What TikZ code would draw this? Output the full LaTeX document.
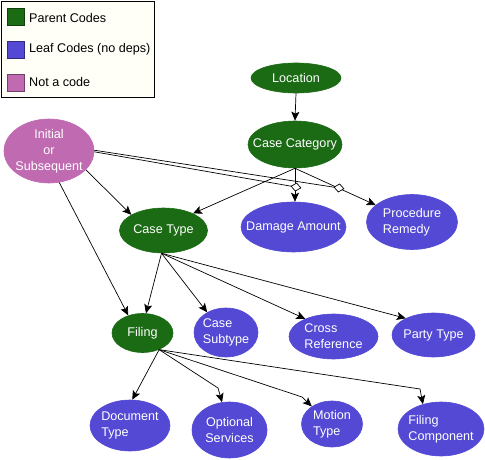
\documentclass[tikz,border=0pt]{standalone}
\usepackage{fontspec}
\setmainfont{Liberation Sans}
\usetikzlibrary{shapes.geometric,arrows.meta}
\definecolor{pgreen}{HTML}{1B6B15}
\definecolor{lblue}{HTML}{5349D4}
\definecolor{npink}{HTML}{C06BB1}
\definecolor{legbg}{HTML}{FFFFF8}
\begin{document}
\begin{tikzpicture}[x=1pt,y=-1pt,
  font=\fontsize{12.6}{15.8}\selectfont,
  base/.style={ellipse, inner sep=0pt, line width=0.6pt},
  parent/.style={base, fill=pgreen, draw=pgreen},
  leaf/.style={base, fill=lblue, draw=lblue},
  notcode/.style={base, fill=npink, draw=npink},
  lbl/.style={label={[text=white, align=left, inner sep=0pt]center:#1}},
  lblc/.style={label={[text=white, align=center, inner sep=0pt]center:#1}},
  legsq/.style={rectangle, inner sep=0pt, minimum width=17pt, minimum height=17pt, line width=0.8pt},
  legtxt/.style={anchor=west, inner sep=0pt, text=black},
  arr/.style={draw=black, line width=0.7pt, -{Stealth[length=9pt,width=8pt,inset=2pt]}},
  dia/.style={draw=black, line width=0.7pt, -{Diamond[length=11pt,width=9pt,fill=white,line width=0.7pt]}}
]
\useasboundingbox (0,0) rectangle (485,460);

% legend
\node (legend) [draw=black, fill=legbg, line width=0.8pt, minimum width=153pt, minimum height=96.5pt, inner sep=0pt, anchor=north west] at (1,1) {};
\node (lg1) [legsq, fill=pgreen, draw=pgreen!60!black] at (15.5,17) {};
\node (lg2) [legsq, fill=lblue, draw=lblue!60!black] at (15.5,49.5) {};
\node (lg3) [legsq, fill=npink, draw=npink!60!black] at (15.5,82.5) {};
\node (lt1) [legtxt] at (29,18) {Parent Codes};
\node (lt2) [legtxt] at (29,49.5) {Leaf Codes (no deps)};
\node (lt3) [legtxt] at (29,81.5) {Not a code};

% nodes
\node (loc) [parent, minimum width=90pt, minimum height=30pt, lblc={Location}] at (296,78) {};
\node (cc) [parent, minimum width=94pt, minimum height=47pt, lblc={Case Category}] at (295,144.5) {};
\node (init) [notcode, minimum width=90pt, minimum height=64pt, lblc={Initial\\or\\Subsequent}] at (49,151) {};
\node (ctype) [parent, minimum width=88pt, minimum height=45pt, lblc={Case Type}] at (163.5,230.5) {};
\node (dmg) [leaf, minimum width=105pt, minimum height=50pt, lblc={Damage Amount}] at (293.5,227) {};
\node (pr) [leaf, minimum width=91pt, minimum height=55pt, lbl={Procedure\\Remedy}] at (412,222) {};
\node (fil) [parent, minimum width=61pt, minimum height=39pt, lblc={Filing}] at (142.5,333) {};
\node (cs) [leaf, minimum width=64pt, minimum height=49pt, lbl={Case\\Subtype}] at (226,332.5) {};
\node (cr) [leaf, minimum width=89pt, minimum height=45pt, lbl={Cross\\Reference}] at (333.5,336.5) {};
\node (pt) [leaf, minimum width=83pt, minimum height=44pt, lblc={Party Type}] at (433.5,335) {};
\node (doc) [leaf, minimum width=80pt, minimum height=51pt, lbl={Document\\Type}] at (130,425.5) {};
\node (opt) [leaf, minimum width=75pt, minimum height=56pt, lblc={Optional\\Services}] at (229.5,430) {};
\node (mot) [leaf, minimum width=61pt, minimum height=46pt, lbl={Motion\\Type}] at (332,424) {};
\node (fc) [leaf, minimum width=86pt, minimum height=54pt, lbl={Filing\\Component}] at (441,429) {};

% waypoints and edge-attachment points
\coordinate (w1) at (218,388);
\coordinate (w2) at (302,397);
\coordinate (w3) at (420,389);
\coordinate (d1) at (301.4,188);
\coordinate (d2) at (344.4,188.8);

% connectors
\draw[arr] (loc.south) -- (cc.north);
\draw[arr] (cc.south) -- (ctype.30);
\draw[arr] (cc.south) -- (cc.south |- dmg.north);
\draw[arr] (cc.south) -- (pr.155);
\draw[arr] (init.-27) -- (ctype.154);
\draw[arr] (init.-72) -- (fil.129);
\draw[arr] (ctype.265) -- (fil.80);
\draw[arr] (ctype.265) -- (cs.133);
\draw[arr] (ctype.265) -- (cr.148);
\draw[arr] (ctype.265) -- (pt.149);
\draw[arr] (fil.-45) -- (doc.85);
\draw[arr] (fil.-45) -- (w1) -- (opt.105);
\draw[arr] (fil.-45) -- (w2) -- (mot.139);
\draw[arr] (fil.-45) -- (w3) -- (fc.126);
\draw[dia] (init.-1) -- (d1);
\draw[dia] (init.1) -- (d2);
\end{tikzpicture}
\end{document}
